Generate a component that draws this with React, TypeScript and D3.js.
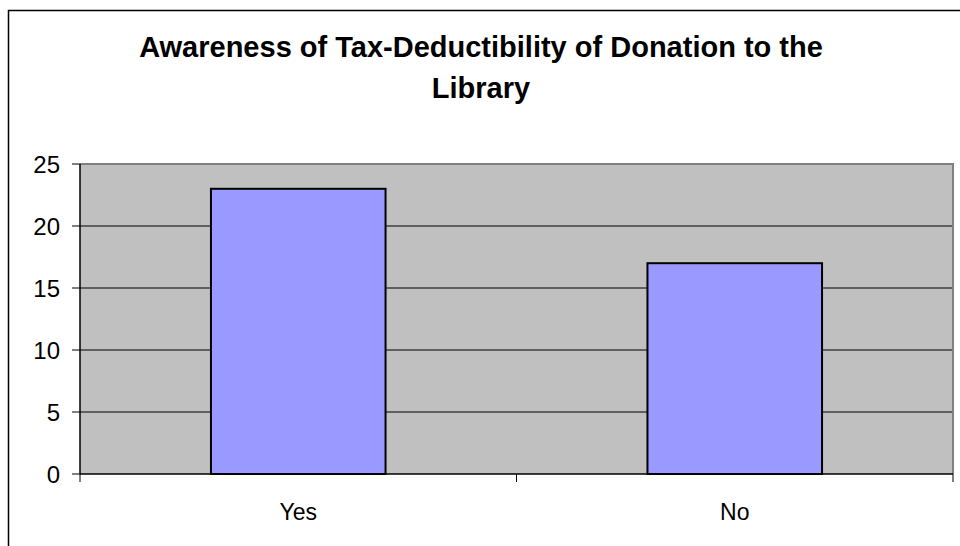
import React from "react";
import * as d3 from "d3";

const categories = ["Yes", "No"];
const values = [23, 17];
const yTicks = [0, 5, 10, 15, 20, 25];
const titleLines = ["Awareness of Tax-Deductibility of Donation to the", "Library"];

export default function App() {
  const W = 960, H = 546;
  const left = 80, right = 953, top = 164, bottom = 474;
  const x = d3.scaleBand<string>().domain(categories).range([left, right]).paddingInner(0).paddingOuter(0);
  const y = d3.scaleLinear().domain([0, 25]).range([bottom, top]);
  const bw = x.bandwidth() * 0.4;
  const font = "Arial, 'Liberation Sans', sans-serif";
  return (
    <svg width={W} height={H} style={{ position: "absolute", left: 0, top: 0 }} fontFamily={font}>
      <rect x={0} y={0} width={W} height={H} fill="#fff" />
      <rect x={8.5} y={10.5} width={1000} height={600} fill="none" stroke="#000" strokeWidth={1.5} />
      {titleLines.map((t, i) => (
        <text key={i} x={481} y={57 + i * 41} textAnchor="middle" fontSize={29} fontWeight="bold" fill="#000">{t}</text>
      ))}
      <rect x={left} y={top} width={right - left} height={bottom - top} fill="#c0c0c0" />
      {yTicks.filter(v => v > 0 && v < 25).map(v => (
        <line key={v} x1={left} x2={right} y1={y(v)} y2={y(v)} stroke="#000" strokeWidth={1} />
      ))}
      <line x1={left} x2={right + 1} y1={top} y2={top} stroke="#808080" strokeWidth={2} />
      <line x1={right} x2={right} y1={top} y2={bottom} stroke="#808080" strokeWidth={2} />
      {categories.map((c, i) => {
        const cx = x(c)! + x.bandwidth() / 2;
        return (
          <rect key={c} x={cx - bw / 2} y={y(values[i])} width={bw} height={y(0) - y(values[i])}
            fill="#9999ff" stroke="#000" strokeWidth={2} />
        );
      })}
      <line x1={left} x2={left} y1={top} y2={bottom} stroke="#000" strokeWidth={1.5} />
      <line x1={left} x2={right} y1={bottom} y2={bottom} stroke="#000" strokeWidth={1.5} />
      {yTicks.map(v => (
        <g key={v}>
          <line x1={left - 8} x2={left} y1={y(v)} y2={y(v)} stroke="#000" strokeWidth={1} />
          <text x={60} y={y(v) + 8.5} textAnchor="end" fontSize={24} fill="#000">{v}</text>
        </g>
      ))}
      {[left, ...categories.map(c => x(c)! + x.bandwidth())].map((px, i) => (
        <line key={i} x1={px} x2={px} y1={bottom} y2={bottom + 8} stroke="#000" strokeWidth={1} />
      ))}
      {categories.map(c => (
        <text key={c} x={x(c)! + x.bandwidth() / 2} y={520} textAnchor="middle" fontSize={23} fill="#000">{c}</text>
      ))}
    </svg>
  );
}
